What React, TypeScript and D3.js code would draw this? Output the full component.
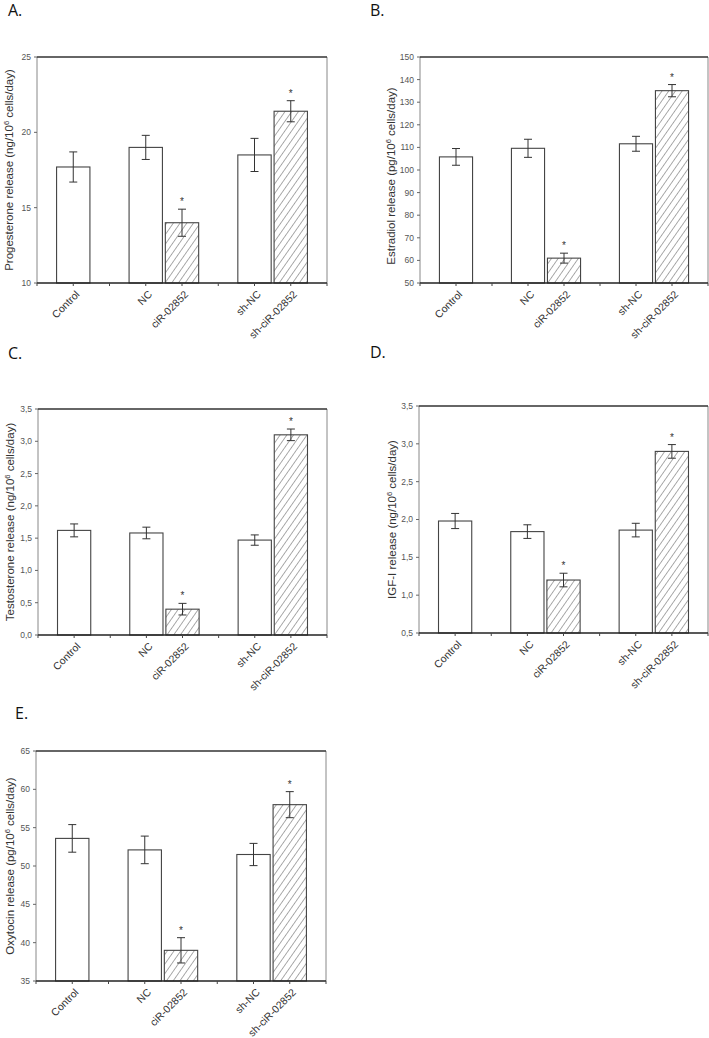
import * as d3 from "d3";

// groups in plotting order, placed on an 8-unit band axis with gaps between the sets
const groups = ["Control", "NC", "ciR-02852", "sh-NC", "sh-ciR-02852"];
const slots = [1, 3, 4, 6, 7];
const hatched = [false, false, true, false, true];
const significant = [false, false, true, false, true];

const progesteroneMean = [17.7, 19.0, 14.0, 18.5, 21.4];
const progesteroneErr = [1.0, 0.8, 0.9, 1.1, 0.7];
const progesteroneTicks = [10, 15, 20, 25];

const estradiolMean = [105.8, 109.6, 61.0, 111.6, 135.1];
const estradiolErr = [3.7, 4.0, 2.2, 3.3, 2.7];
const estradiolTicks = [50, 60, 70, 80, 90, 100, 110, 120, 130, 140, 150];

const testosteroneMean = [1.62, 1.58, 0.40, 1.47, 3.10];
const testosteroneErr = [0.10, 0.09, 0.09, 0.08, 0.09];
const testosteroneTicks = [0, 0.5, 1, 1.5, 2, 2.5, 3, 3.5];

const igfMean = [1.98, 1.84, 1.20, 1.86, 2.90];
const igfErr = [0.10, 0.09, 0.09, 0.09, 0.09];
const igfTicks = [0.5, 1, 1.5, 2, 2.5, 3, 3.5];

const oxytocinMean = [53.6, 52.1, 39.0, 51.5, 58.0];
const oxytocinErr = [1.8, 1.8, 1.65, 1.45, 1.7];
const oxytocinTicks = [35, 40, 45, 50, 55, 60, 65];

const intFmt = d3.format("d");
const commaFmt = (v: number) => d3.format(".1f")(v).replace(".", ",");

type PanelProps = {
  letter: string;
  letterX: number;
  letterY: number;
  titleMain: string;
  titleTail: string;
  titleX: number;
  titleShift?: number;
  mean: number[];
  err: number[];
  ticks: number[];
  fmt: (v: number) => string;
  left: number;
  right: number;
  top: number;
  bottom: number;
};

const FONT = "Liberation Sans, Arial, sans-serif";

function Panel(p: PanelProps) {
  const x = d3.scaleLinear().domain([0, 8]).range([p.left, p.right]);
  const y = d3
    .scaleLinear()
    .domain([p.ticks[0], p.ticks[p.ticks.length - 1]])
    .range([p.bottom, p.top]);
  const barW = x(0.92) - x(0);
  const unitTicks = d3.range(0, 9);
  const midY = (p.top + p.bottom) / 2 + (p.titleShift || 0);

  return (
    <g>
      <text x={p.letterX} y={p.letterY} fontFamily="Open Sans, sans-serif" fontSize={16} fill="#111">
        {p.letter}
      </text>

      {/* bars */}
      {p.mean.map((m, i) => (
        <rect
          key={"b" + i}
          x={x(slots[i]) - barW / 2}
          y={y(m)}
          width={barW}
          height={p.bottom - y(m)}
          fill={hatched[i] ? "url(#hatch)" : "#fff"}
          stroke="#444"
          strokeWidth={1.1}
        />
      ))}

      {/* error bars */}
      {p.mean.map((m, i) => {
        const cx = x(slots[i]);
        const hi = y(m + p.err[i]);
        const lo = y(m - p.err[i]);
        return (
          <g key={"e" + i} stroke="#333" strokeWidth={1}>
            <line x1={cx} x2={cx} y1={hi} y2={lo} />
            <line x1={cx - 4} x2={cx + 4} y1={hi} y2={hi} />
            <line x1={cx - 4} x2={cx + 4} y1={lo} y2={lo} />
          </g>
        );
      })}

      {/* significance marks */}
      {p.mean.map((m, i) =>
        significant[i] ? (
          <text
            key={"s" + i}
            x={x(slots[i])}
            y={y(m + p.err[i]) - 4}
            textAnchor="middle"
            fontFamily={FONT}
            fontSize={10}
            fill="#333"
          >
            *
          </text>
        ) : null
      )}

      {/* frame */}
      <line x1={p.left} x2={p.left} y1={p.top} y2={p.bottom} stroke="#888" />
      <line x1={p.right} x2={p.right} y1={p.top} y2={p.bottom} stroke="#888" />
      <line x1={p.left} x2={p.right} y1={p.top} y2={p.top} stroke="#333" strokeWidth={1.4} />
      <line x1={p.left} x2={p.right} y1={p.bottom} y2={p.bottom} stroke="#222" strokeWidth={1.4} />

      {/* y axis */}
      {p.ticks.map((t) => (
        <g key={"y" + t}>
          <line x1={p.left - 3} x2={p.left} y1={y(t)} y2={y(t)} stroke="#666" />
          <text
            x={p.left - 6}
            y={y(t)}
            dy="0.35em"
            textAnchor="end"
            fontFamily={FONT}
            fontSize={8.5}
            fill="#555"
          >
            {p.fmt(t)}
          </text>
        </g>
      ))}

      {/* x axis */}
      {unitTicks.map((t) => (
        <line key={"x" + t} x1={x(t)} x2={x(t)} y1={p.bottom} y2={p.bottom + 3} stroke="#444" />
      ))}
      {groups.map((g, i) => (
        <text
          key={"l" + i}
          transform={`translate(${x(slots[i]) + 7},${p.bottom + 12}) rotate(-45)`}
          textAnchor="end"
          fontFamily={FONT}
          fontSize={10.5}
          fill="#333"
        >
          {g}
        </text>
      ))}

      <text
        transform={`translate(${p.titleX},${midY}) rotate(-90)`}
        textAnchor="middle"
        fontFamily={FONT}
        fontSize={11.5}
        fill="#333"
      >
        {p.titleMain}
        <tspan dy={-4.5} fontSize={7.5}>6</tspan>
        <tspan dy={4.5}>{p.titleTail}</tspan>
      </text>
    </g>
  );
}

export default function App() {
  return (
    <svg
      width={709}
      height={1038}
      style={{ position: "absolute", left: 0, top: 0, background: "#fff" }}
    >
      <defs>
        <pattern id="hatch" width={5.5} height={5.5} patternUnits="userSpaceOnUse" patternTransform="rotate(35)">
          <rect width={5.5} height={5.5} fill="#fff" />
          <line x1={0} y1={0} x2={0} y2={5.5} stroke="#444" strokeWidth={0.9} />
        </pattern>
      </defs>
      <rect width={709} height={1038} fill="#fff" />

      <Panel
        letter="A." letterX={8} letterY={16}
        titleMain="Progesterone release (ng/10" titleTail=" cells/day)" titleX={13}
        mean={progesteroneMean} err={progesteroneErr} ticks={progesteroneTicks} fmt={intFmt}
        left={37} right={327} top={57} bottom={283}
      />
      <Panel
        letter="B." letterX={370} letterY={16}
        titleMain="Estradiol release (pg/10" titleTail=" cells/day)" titleX={395} titleShift={6}
        mean={estradiolMean} err={estradiolErr} ticks={estradiolTicks} fmt={intFmt}
        left={420} right={708} top={57} bottom={283}
      />
      <Panel
        letter="C." letterX={8} letterY={359}
        titleMain="Testosterone release (ng/10" titleTail=" cells/day)" titleX={14}
        mean={testosteroneMean} err={testosteroneErr} ticks={testosteroneTicks} fmt={commaFmt}
        left={38} right={327} top={409} bottom={635}
      />
      <Panel
        letter="D." letterX={370} letterY={358}
        titleMain="IGF-I release (ng/10" titleTail=" cells/day)" titleX={396}
        mean={igfMean} err={igfErr} ticks={igfTicks} fmt={commaFmt}
        left={419} right={708} top={406} bottom={633}
      />
      <Panel
        letter="E." letterX={15} letterY={719}
        titleMain="Oxytocin release (pg/10" titleTail=" cells/day)" titleX={14}
        mean={oxytocinMean} err={oxytocinErr} ticks={oxytocinTicks} fmt={intFmt}
        left={36} right={326} top={751} bottom={981}
      />
    </svg>
  );
}
